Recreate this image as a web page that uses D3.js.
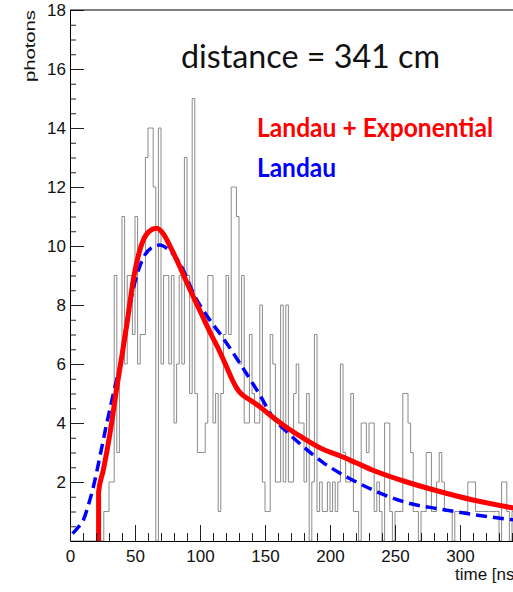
<!DOCTYPE html>
<html>
<head>
<meta charset="utf-8">
<script src="https://cdn.jsdelivr.net/npm/d3@7"></script>
<style>
  body { margin: 0; background: #fff; }
  svg { display: block; }
  .tick text { font-family: "Liberation Sans", Arial, sans-serif; font-size: 17px; fill: #111; }
</style>
</head>
<body>
<div id="chart"></div>
<script>
// photon arrival time histogram, 2 ns bins starting at 0
var binWidth = 2;
var counts = [
  0,0,0,0,0,0,0,0,0,0,0,0,0,
  1,1,2,2,9,3,6,11,6,9,9,7,11,6,7,7,13,14,14,12,0,14,
  6,9,9,6,9,4,6,9,6,13,9,5,15,5,3,3,3,4,9,9,4,5,1,5,7,9,7,
  12,12,11,6,9,4,4,7,5,4,4,8,2,1,1,7,6,2,2,8,2,8,2,2,5,6,4,4,2,5,0,2,7,
  1,2,1,1,2,1,2,1,2,6,3,2,2,5,1,1,0,4,4,3,4,4,1,2,1,0,4,4,1,0,1,1,1,
  5,5,4,3,1,1,0,1,1,3,3,1,1,2,3,2,1,1,1,0,1,1,1,1,1,2,2,2,1,1,1,1,1,1,1,1,1,0,2,2,1,0,1,1,1,1,1
];

// fitted curves (time in ns, photons)
var fullT = [22, 22, 25.6, 30.8, 36, 40, 43.6, 48.7, 53, 56.4, 61, 66.7, 72, 78, 85, 92, 100, 108, 115.4, 121, 125, 128, 131, 138.5, 146, 153.8, 165, 179, 195, 208, 220, 233, 259, 285, 310, 341, 350];
var fullV = [0, 1.66, 2.4, 3.66, 5.2, 6.3, 7.3, 8.85, 9.75, 10.2, 10.5, 10.6, 10.4, 9.9, 9.25, 8.55, 7.8, 7.05, 6.4, 5.85, 5.45, 5.2, 5.02, 4.78, 4.55, 4.27, 3.9, 3.5, 3.1, 2.88, 2.65, 2.4, 2.0, 1.67, 1.39, 1.12, 1.05];
var landauT = [2, 6, 10.3, 14, 18, 23, 28, 34.6, 38.5, 43.6, 48.7, 56.4, 63, 69, 75, 84.6, 96, 109, 115, 131, 146, 156, 168, 179.5, 195, 207.7, 215, 233, 259, 285, 310, 341, 350];
var landauV = [0.25, 0.45, 0.71, 1.2, 1.84, 2.86, 3.93, 5.23, 5.95, 7.4, 8.55, 9.6, 9.95, 10.03, 9.9, 9.4, 8.3, 7.4, 7.05, 6.0, 4.95, 4.2, 3.65, 3.2, 2.65, 2.3, 2.12, 1.73, 1.3, 1.08, 0.9, 0.72, 0.68];

var xMajor = [0, 50, 100, 150, 200, 250, 300];
var yMajor = [2, 4, 6, 8, 10, 12, 14, 16, 18];

var W = 513, H = 592;
var svg = d3.select('#chart').append('svg')
    .attr('width', W)
    .attr('height', H);

var x = d3.scaleLinear().domain([0, 350]).range([70, 525]);
var y = d3.scaleLinear().domain([0, 18]).range([541, 10]);

svg.append('clipPath').attr('id', 'plotArea')
  .append('rect')
    .attr('x', x(0)).attr('y', y(18))
    .attr('width', x(350) - x(0)).attr('height', y(0) - y(18));

var plot = svg.append('g').attr('clip-path', 'url(#plotArea)');

// histogram outline as steps
var histPts = counts.map(function(c, i) { return [i * binWidth, c]; });
histPts.push([counts.length * binWidth, counts[counts.length - 1]]);
var stepLine = d3.line()
    .x(function(d) { return x(d[0]); })
    .y(function(d) { return y(d[1]); })
    .curve(d3.curveStepAfter);
plot.append('path')
    .attr('d', stepLine(histPts))
    .style('fill', 'none')
    .style('stroke', '#8a8a8a')
    .style('stroke-width', 1);

var fitLine = d3.line()
    .x(function(d) { return x(d[0]); })
    .y(function(d) { return y(d[1]); })
    .curve(d3.curveMonotoneX);

plot.append('path')
    .attr('d', fitLine(d3.zip(landauT, landauV)))
    .style('fill', 'none')
    .style('stroke', '#0000ff')
    .style('stroke-width', 3.5)
    .style('stroke-dasharray', '11,6');

plot.append('path')
    .attr('d', fitLine(d3.zip(fullT, fullV)))
    .style('fill', 'none')
    .style('stroke', '#ff0000')
    .style('stroke-width', 5)
    .style('stroke-linejoin', 'round');

// axes, ROOT style ticks pointing inwards
var yMinor = d3.range(0.5, 18, 0.5).filter(function(v) { return v % 2 !== 0; });
var xMinor = d3.range(10, 350, 10).filter(function(v) { return v % 50 !== 0; });

svg.append('g')
    .attr('transform', 'translate(' + x(0) + ',0)')
    .call(d3.axisLeft(y).tickValues(yMinor).tickSize(-6).tickFormat(''))
    .call(function(g) { g.select('.domain').remove(); });
svg.append('g')
    .attr('transform', 'translate(' + x(0) + ',0)')
    .call(d3.axisLeft(y).tickValues(yMajor).tickSize(-14).tickSizeOuter(0).tickPadding(4).tickFormat(d3.format('d')));

svg.append('g')
    .attr('transform', 'translate(0,' + y(0) + ')')
    .call(d3.axisBottom(x).tickValues(xMinor).tickSize(-8).tickFormat(''))
    .call(function(g) { g.select('.domain').remove(); });
svg.append('g')
    .attr('transform', 'translate(0,' + y(0) + ')')
    .call(d3.axisBottom(x).tickValues(xMajor).tickSize(-16).tickSizeOuter(0).tickPadding(9).tickFormat(d3.format('d')));

svg.selectAll('.tick line').style('stroke', '#222');
svg.selectAll('.domain').style('stroke', '#000');

// top frame
svg.append('line')
    .attr('x1', x(0)).attr('x2', x(350))
    .attr('y1', y(18)).attr('y2', y(18))
    .style('stroke', '#000');

// axis titles
svg.append('text')
    .attr('transform', 'translate(35,10) rotate(-90)')
    .attr('text-anchor', 'end')
    .attr('textLength', 72)
    .attr('lengthAdjust', 'spacingAndGlyphs')
    .style('font-family', '"Liberation Sans", Arial, sans-serif')
    .style('font-size', '15px')
    .style('fill', '#111')
    .text('photons');

svg.append('text')
    .attr('x', 455).attr('y', 580)
    .style('font-family', '"Liberation Sans", Arial, sans-serif')
    .style('font-size', '17px')
    .style('fill', '#111')
    .text('time [ns]');

// annotations
svg.append('text')
    .attr('x', 181).attr('y', 68)
    .attr('textLength', 259)
    .attr('lengthAdjust', 'spacingAndGlyphs')
    .style('font-family', 'Lato, "Open Sans", sans-serif')
    .style('font-size', '33px')
    .style('fill', '#111')
    .text('distance = 341 cm');

svg.append('text')
    .attr('x', 257).attr('y', 137)
    .attr('textLength', 236)
    .attr('lengthAdjust', 'spacingAndGlyphs')
    .style('font-family', 'Lato, "Open Sans", sans-serif')
    .style('font-weight', 'bold')
    .style('font-size', '27px')
    .style('fill', '#ff0000')
    .text('Landau + Exponential');

svg.append('text')
    .attr('x', 257).attr('y', 177)
    .attr('textLength', 79)
    .attr('lengthAdjust', 'spacingAndGlyphs')
    .style('font-family', 'Lato, "Open Sans", sans-serif')
    .style('font-weight', 'bold')
    .style('font-size', '27px')
    .style('fill', '#0000ff')
    .text('Landau');
</script>
</body>
</html>
